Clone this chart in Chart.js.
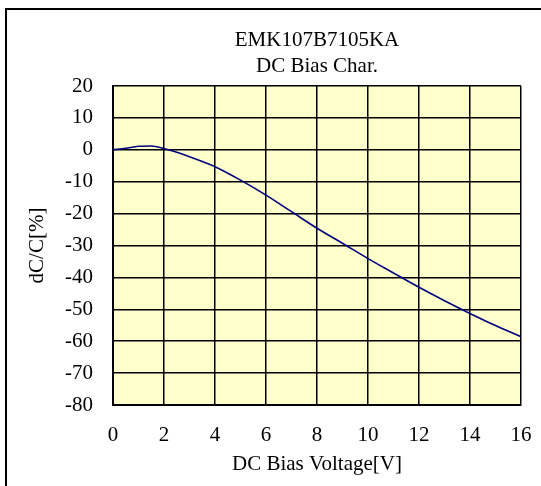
<!DOCTYPE html>
<html>
<head>
<meta charset="utf-8">
<script src="https://cdn.jsdelivr.net/npm/chart.js@4"></script>
<style>
  html, body { margin: 0; padding: 0; background: #fff; }
  #wrap { width: 541px; height: 486px; }
</style>
</head>
<body>
<div id="wrap"><canvas id="grafico"></canvas></div>
<script>
var voltages = [0, 0.5, 1, 1.5, 2, 2.5, 3, 3.5, 4, 5, 6, 7, 8, 9, 10, 11, 12, 13, 14, 15, 16];
var dcValues = [0, 0.5, 1.1, 1.2, 0.4, -0.8, -2.2, -3.7, -5.3, -9.5, -14.2, -19.4, -24.6, -29.3, -34.1, -38.6, -43.1, -47.3, -51.3, -55.1, -58.6];
var titleLines = ["EMK107B7105KA", "DC Bias Char."];

var points = voltages.map(function (v, i) { return { x: v, y: dcValues[i] }; });

var serif = "'Liberation Serif', 'Times New Roman', serif";

// yellow plot background, outer frame and the title centred over the plot
var frame = {
    id: 'frame',
    beforeDraw: function (chart) {
        var c = chart.ctx, a = chart.chartArea;
        c.save();
        c.fillStyle = '#ffffcc';
        c.fillRect(a.left, a.top, a.right - a.left, a.bottom - a.top);
        c.strokeStyle = '#000';
        c.lineWidth = 2;
        c.strokeRect(6, 9, 700, 700);
        c.restore();
    },
    afterDraw: function (chart) {
        var c = chart.ctx, a = chart.chartArea;
        var cx = (a.left + a.right) / 2;
        c.save();
        c.fillStyle = '#000';
        c.font = '21px ' + serif;
        c.textAlign = 'center';
        c.textBaseline = 'alphabetic';
        titleLines.forEach(function (t, i) {
            c.fillText(t, cx, 46 + i * 26);
        });
        c.restore();
    }
};

var data = {
    datasets: [{
        data: points,
        borderColor: '#000080',
        borderWidth: 1.6,
        pointRadius: 0,
        tension: 0.4,
        cubicInterpolationMode: 'monotone',
        fill: false
    }]
};

var options = {
    responsive: true,
    maintainAspectRatio: false,
    animation: false,
    layout: { padding: { left: 20, right: 20, top: 86, bottom: 7 } },
    plugins: {
        legend: { display: false },
        tooltip: { enabled: false },
        title: { display: false }
    },
    scales: {
        x: {
            type: 'linear',
            min: 0,
            max: 16,
            ticks: { stepSize: 2, color: '#000', padding: 18, maxRotation: 0, font: { family: serif, size: 21 } },
            grid: { color: '#000', lineWidth: 1.5, drawTicks: false },
            border: { color: '#000', width: 2 },
            title: { display: true, text: 'DC Bias Voltage[V]', color: '#000', padding: { top: 0, bottom: 2 }, font: { family: serif, size: 21 } },
            afterFit: function (s) { s.height = 74; s.paddingLeft = 0; s.paddingRight = 0; }
        },
        y: {
            min: -80,
            max: 20,
            ticks: { stepSize: 10, color: '#000', padding: 20, font: { family: serif, size: 21 } },
            grid: { color: '#000', lineWidth: 1.5, drawTicks: false },
            border: { color: '#000', width: 2 },
            title: { display: true, text: 'dC/C[%]', color: '#000', padding: { top: 5, bottom: 0 }, font: { family: serif, size: 21 } },
            afterFit: function (s) { s.width = 93; s.paddingTop = 0; s.paddingBottom = 0; }
        }
    }
};

var ctx = document.querySelector('#grafico').getContext('2d');
var lineChart = new Chart(ctx, {
    type: 'line',
    data: data,
    options: options,
    plugins: [frame]
});
</script>
</body>
</html>
